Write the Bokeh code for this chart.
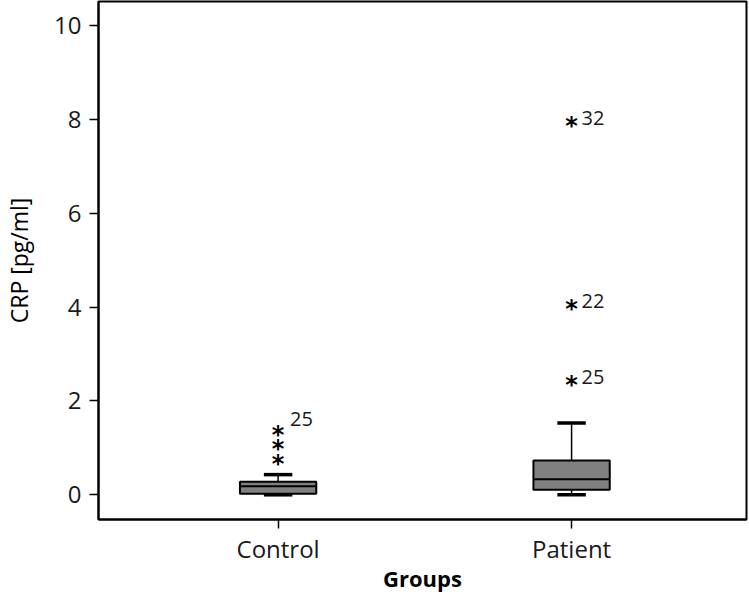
from bokeh.plotting import figure
from bokeh.models import ColumnDataSource, FixedTicker, Range1d
from bokeh.core.properties import value
from bokeh.embed import file_html
from bokeh.resources import INLINE

# ---- data ----
groups = ["Control", "Patient"]
group_pos = [1, 2]
lower_whisker = [0.0, 0.0]
q1 = [0.02, 0.11]
median = [0.18, 0.33]
q3 = [0.28, 0.73]
upper_whisker = [0.43, 1.53]

control_outliers = [0.73, 1.03, 1.33]
control_labels = ["", "", "25"]
patient_outliers = [2.40, 4.03, 7.92]
patient_labels = ["25", "22", "32"]

y_ticks = [0, 2, 4, 6, 8, 10]

FONT = "Open Sans"
BOX_W = 0.26
CAP_W = 0.097
X0, X1 = 0.388, 2.596
Y0, Y1 = -0.526, 10.51

p = figure(width=749, height=597, output_backend="svg", toolbar_location=None,
           x_range=Range1d(X0, X1), y_range=Range1d(Y0, Y1),
           min_border_left=98, min_border_right=3, min_border_top=1, min_border_bottom=78)

p.xgrid.visible = False
p.ygrid.visible = False
p.outline_line_color = "black"
p.outline_line_width = 2
p.background_fill_color = "white"
p.border_fill_color = "white"

for ax in (p.xaxis, p.yaxis):
    ax.axis_line_color = "black"
    ax.axis_line_width = 2
    ax.major_tick_line_color = "black"
    ax.major_tick_line_width = 1.5
    ax.major_tick_in = 0
    ax.major_tick_out = 9
    ax.minor_tick_line_color = None
    ax.major_label_text_font = FONT
    ax.major_label_text_font_size = "24px"
    ax.major_label_text_color = "#1a1a1a"
    ax.axis_label_text_font = FONT
    ax.axis_label_text_color = "black"

p.xaxis.ticker = FixedTicker(ticks=group_pos)
p.xaxis.major_label_overrides = {g: n for g, n in zip(group_pos, groups)}
p.xaxis.axis_label = "Groups"
p.xaxis.axis_label_text_font_size = "22px"
p.xaxis.axis_label_text_font_style = "bold"
p.xaxis.axis_label_standoff = -5
p.xaxis.major_label_standoff = 3

p.yaxis.ticker = FixedTicker(ticks=y_ticks)
p.yaxis.major_label_standoff = 8
p.yaxis.axis_label = "CRP [pg/ml]"
p.yaxis.axis_label_text_font_size = "23px"
p.yaxis.axis_label_text_font_style = "normal"
p.yaxis.axis_label_text_line_height = 1.0
p.yaxis.axis_label_standoff = 16

src = ColumnDataSource(dict(x=group_pos, lw=lower_whisker, q1=q1, med=median, q3=q3, uw=upper_whisker,
                            xl=[g - BOX_W / 2 for g in group_pos], xr=[g + BOX_W / 2 for g in group_pos],
                            cl=[g - CAP_W / 2 for g in group_pos], cr=[g + CAP_W / 2 for g in group_pos]))

# whiskers
p.segment(x0="x", y0="q3", x1="x", y1="uw", source=src, line_color="black", line_width=1.5)
p.segment(x0="x", y0="q1", x1="x", y1="lw", source=src, line_color="black", line_width=1.5)
# caps
p.segment(x0="cl", y0="uw", x1="cr", y1="uw", source=src, line_color="black", line_width=3.5)
p.segment(x0="cl", y0="lw", x1="cr", y1="lw", source=src, line_color="black", line_width=3.5)
# boxes
p.vbar(x="x", top="q3", bottom="q1", width=BOX_W, source=src,
       fill_color="#808080", line_color="black", line_width=2)
# median
p.segment(x0="xl", y0="med", x1="xr", y1="med", source=src, line_color="black", line_width=2)

# outliers (asterisks)
ox = [group_pos[0]] * len(control_outliers) + [group_pos[1]] * len(patient_outliers)
oy = control_outliers + patient_outliers
osrc = ColumnDataSource(dict(x=ox, y=oy, star=["*"] * len(oy)))
p.text(x="x", y="y", text="star", source=osrc, text_font=value("DejaVu Sans"),
       text_font_style="bold", text_font_size="24px", text_align="center",
       text_baseline="middle", y_offset=3, text_color="black")

csrc = ColumnDataSource(dict(x=[group_pos[0]] * len(control_outliers), y=control_outliers, lab=control_labels))
p.text(x="x", y="y", text="lab", source=csrc, text_font=value(FONT), text_font_size="20px",
       text_align="left", text_baseline="middle", x_offset=12, y_offset=-13, text_color="#1a1a1a")
psrc = ColumnDataSource(dict(x=[group_pos[1]] * len(patient_outliers), y=patient_outliers, lab=patient_labels))
p.text(x="x", y="y", text="lab", source=psrc, text_font=value(FONT), text_font_size="20px",
       text_align="left", text_baseline="middle", x_offset=10, y_offset=-5, text_color="#1a1a1a")

open("out.html", "w").write(file_html(p, INLINE))
